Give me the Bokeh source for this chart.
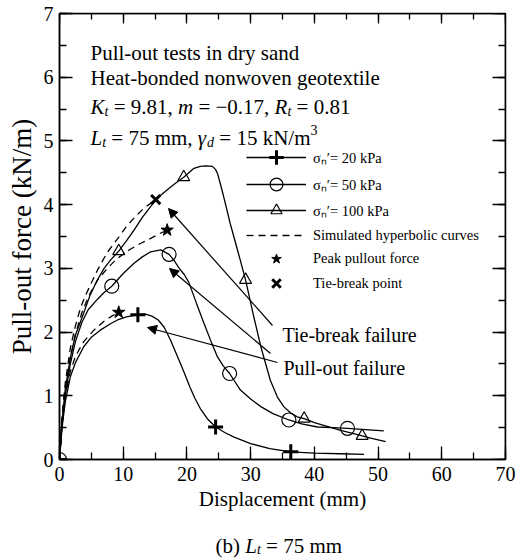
from bokeh.plotting import figure
from bokeh.layouts import column
from bokeh.models import (LinearAxis, Range1d, Label, Arrow, NormalHead, Legend,
                          LegendItem, SingleIntervalTicker)
from bokeh.embed import file_html
from bokeh.resources import INLINE

FONT = "Liberation Serif"

# ---------------- data ----------------
# sigma_n' = 20 kPa, measured curve
s20_x = [0, 0.4, 0.9, 1.7, 2.5, 3.8, 5.0, 6.4, 8.0, 9.1, 10.5, 12.3, 13.5, 14.5, 15.5, 16.4,
         17.4, 18.5, 19.5, 20.5, 21.3, 22.1, 23.2, 24.5, 26.0, 27.4, 30.0, 33.0, 36.3, 40.0, 44.0, 47.8]
s20_y = [0, 0.5, 0.9, 1.3, 1.52, 1.77, 1.92, 2.03, 2.13, 2.19, 2.24, 2.27, 2.28, 2.25, 2.19, 2.08,
         1.88, 1.62, 1.38, 1.13, 0.95, 0.8, 0.64, 0.51, 0.42, 0.35, 0.25, 0.17, 0.12, 0.1, 0.09, 0.08]
# sigma_n' = 50 kPa
s50_x = [0, 0.4, 0.9, 1.7, 2.5, 3.5, 4.5, 6.0, 7.0, 8.2, 10.0, 11.7, 13.0, 14.3, 15.9, 17.2, 18.0,
         18.8, 19.6, 20.3, 21.5, 22.7, 23.8, 24.8, 25.7, 26.7, 28.4, 30.0, 31.6, 33.5, 36.0, 38.0,
         40.5, 43.0, 45.2, 48.0, 50.9]
s50_y = [0, 0.55, 1.0, 1.5, 1.85, 2.15, 2.35, 2.52, 2.62, 2.72, 2.92, 3.08, 3.18, 3.26, 3.29, 3.22,
         3.12, 3.0, 2.9, 2.78, 2.45, 2.13, 1.85, 1.61, 1.47, 1.35, 1.09, 0.95, 0.83, 0.72, 0.62, 0.56,
         0.51, 0.5, 0.49, 0.47, 0.45]
# sigma_n' = 100 kPa
s100_x = [0, 0.4, 0.9, 1.7, 2.5, 3.8, 4.8, 5.9, 7.0, 8.0, 9.3, 10.5, 11.7, 13.0, 14.3, 15.3, 16.5,
          17.5, 18.5, 19.5, 20.3, 21.1, 22.1, 23.0, 24.0, 24.5, 24.8, 25.5, 26.2, 26.8, 28.1, 29.2,
          30.4, 31.6, 33.1, 34.2, 35.2, 36.3, 37.3, 38.4, 40.0, 42.0, 44.0, 46.0, 47.5, 49.0, 51.2]
s100_y = [0, 0.6, 1.1, 1.6, 1.95, 2.3, 2.58, 2.81, 3.0, 3.13, 3.27, 3.43, 3.6, 3.8, 3.97, 4.1, 4.2,
          4.28, 4.36, 4.43, 4.5, 4.57, 4.6, 4.61, 4.6, 4.55, 4.49, 4.23, 3.95, 3.7, 3.23, 2.82,
          2.28, 1.77, 1.24, 0.98, 0.83, 0.73, 0.67, 0.64, 0.58, 0.52, 0.46, 0.41, 0.37, 0.33, 0.28]

# simulated hyperbolic curves (dashed)
h20_x = [0, 0.4, 0.9, 1.7, 2.5, 3.8, 5.4, 7.0, 8.2, 9.3]
h20_y = [0, 0.55, 0.98, 1.38, 1.62, 1.85, 2.03, 2.17, 2.25, 2.31]
h50_x = [0, 0.4, 0.9, 1.7, 2.5, 3.5, 4.5, 6.0, 7.5, 9.0, 11.1, 12.7, 14.3, 15.6, 16.9]
h50_y = [0, 0.62, 1.1, 1.6, 1.97, 2.3, 2.55, 2.82, 3.0, 3.15, 3.3, 3.39, 3.47, 3.54, 3.6]
h100_x = [0, 0.4, 0.9, 1.7, 2.5, 3.3, 4.1, 4.9, 6.0, 7.5, 9.0, 10.6, 12.0, 13.2, 15.1]
h100_y = [0, 0.68, 1.2, 1.75, 2.1, 2.38, 2.58, 2.75, 2.98, 3.25, 3.45, 3.67, 3.82, 3.94, 4.08]

# markers
m20_x = [0, 12.3, 24.5, 36.3]
m20_y = [0, 2.27, 0.51, 0.12]
m50_x = [0, 8.2, 17.2, 26.7, 36.0, 45.2]
m50_y = [0, 2.72, 3.22, 1.35, 0.62, 0.49]
m100_x = [9.3, 19.5, 29.2, 38.4, 47.5]
m100_y = [3.27, 4.43, 2.82, 0.64, 0.37]
peak_x = [9.3, 16.9]
peak_y = [2.31, 3.6]
tie_x = [15.1]
tie_y = [4.08]

legend_labels = ["σₙ′= 20 kPa", "σₙ′= 50 kPa", "σₙ′= 100 kPa",
                 "Simulated hyperbolic curves", "Peak pullout force", "Tie-break point"]

# ---------------- main figure ----------------
BL, BR, BT, BB = 59, 11, 13, 66
p = figure(width=516, height=525, x_range=Range1d(0, 70), y_range=Range1d(0, 7),
           output_backend="svg", toolbar_location=None,
           min_border_left=BL, min_border_right=BR, min_border_top=BT, min_border_bottom=BB)
p.background_fill_color = "white"
p.border_fill_color = "white"
p.outline_line_color = "black"
p.outline_line_width = 1.5
p.xgrid.visible = False
p.ygrid.visible = False

XPX = 446 / 70.0
YPX = 446 / 7.0
X0, Y0 = 59.0, 459.0


def dx(px):
    return (px - X0) / XPX


def dy(py):
    return (Y0 - py) / YPX


def style_axis(ax, labels=True, mj=13, mn=7):
    ax.axis_line_color = "black"
    ax.axis_line_width = 1.5
    ax.major_tick_in = mj
    ax.major_tick_out = 0
    ax.minor_tick_in = mn
    ax.minor_tick_out = 0
    ax.major_tick_line_color = "black"
    ax.minor_tick_line_color = "black"
    ax.major_tick_line_width = 1.3
    ax.minor_tick_line_width = 1.3
    ax.major_label_text_font = FONT
    if labels:
        ax.major_label_text_font_size = "20px"
        ax.major_label_text_color = "black"
    else:
        ax.major_label_text_font_size = "6px"
        ax.major_label_text_color = None
        ax.major_label_standoff = 0


p.xaxis.ticker = SingleIntervalTicker(interval=10, num_minor_ticks=2)
p.yaxis.ticker = SingleIntervalTicker(interval=1, num_minor_ticks=2)
style_axis(p.xaxis[0])
style_axis(p.yaxis[0])
p.xaxis.major_label_standoff = 7
p.yaxis.major_label_standoff = 6
p.xaxis.axis_label = "Displacement (mm)"
p.yaxis.axis_label = "Pull-out force (kN/m)"
for ax in (p.xaxis[0], p.yaxis[0]):
    ax.axis_label_text_font = FONT
    ax.axis_label_text_font_style = "normal"
    ax.axis_label_text_color = "black"
p.xaxis.axis_label_text_font_size = "21px"
p.yaxis.axis_label_text_font_size = "27px"
p.xaxis.axis_label_standoff = 3
p.yaxis.axis_label_standoff = 4

# top and right tick rows, pinned to the frame edges so they take no border space
top = LinearAxis(ticker=SingleIntervalTicker(interval=10, num_minor_ticks=2), fixed_location=7)
right = LinearAxis(ticker=SingleIntervalTicker(interval=1, num_minor_ticks=2), fixed_location=70)
style_axis(top, labels=False, mj=10, mn=6)
style_axis(right, labels=False)
p.add_layout(top, "above")
p.add_layout(right, "right")

# ---------------- curves ----------------
LW = 1.3
l20 = p.line(s20_x, s20_y, line_color="black", line_width=LW)
l50 = p.line(s50_x, s50_y, line_color="black", line_width=LW)
l100 = p.line(s100_x, s100_y, line_color="black", line_width=LW)
d20 = p.line(h20_x, h20_y, line_color="black", line_width=LW, line_dash="7 5")
p.line(h50_x, h50_y, line_color="black", line_width=LW, line_dash="7 5")
p.line(h100_x, h100_y, line_color="black", line_width=LW, line_dash="7 5")

c20 = p.scatter(m20_x, m20_y, marker="cross", size=15, line_color="black", line_width=3)
c50 = p.scatter(m50_x, m50_y, marker="circle", size=14, line_color="black", fill_color=None, line_width=1.2)
c100 = p.scatter(m100_x, m100_y, marker="triangle", size=12, line_color="black", fill_color=None, line_width=1.2)
cpk = p.scatter(peak_x, peak_y, marker="star", size=13, line_color="black", fill_color="black")
ctb = p.scatter(tie_x, tie_y, marker="x", size=13, line_color="black", line_width=3)

# legend: one row per Legend so each row sits where the reference has it
rows = [
    (legend_labels[0], [l20, c20], 157, 36),
    (legend_labels[1], [l50, c50], 184, 32),
    (legend_labels[2], [l100, c100], 210, 28),
    (legend_labels[3], [d20], 235, 20),
    (legend_labels[4], [cpk], 258, 25),
    (legend_labels[5], [ctb], 283, 30),
]
for lab, rends, cy, gh in rows:
    lg = Legend(items=[LegendItem(label=lab, renderers=rends)],
                location=(187, int(round(Y0 - cy - gh / 2))), margin=0, padding=0, spacing=0,
                glyph_width=60, glyph_height=gh, label_height=gh, label_standoff=7,
                label_text_font=FONT, label_text_font_size="14.5px", label_text_color="black",
                border_line_alpha=0, background_fill_alpha=0)
    p.add_layout(lg)

# ---------------- annotations ----------------
def arrow(x0p, y0p, x1p, y1p):
    p.add_layout(Arrow(end=NormalHead(size=9, fill_color="black", line_color="black", line_width=1),
                       x_start=dx(x0p), y_start=dy(y0p), x_end=dx(x1p), y_end=dy(y1p),
                       line_color="black", line_width=1.2))


arrow(272, 325, 168, 208)
arrow(270, 353, 169, 268)
arrow(277, 362, 147, 327)

REG = {' ': .25, '(': .333, ')': .333, ',': .25, '-': .333, '.': .25, '/': .278, '=': .564,
       '−': .564, 'b': .5, 'k': .5, 'm': .778, 'N': .722}
for d in "0123456789":
    REG[d] = .5
ITA = {'K': .667, 'L': .556, 'R': .611, 'm': .722, 't': .278, 'd': .5, 'γ': .44}


def seg_width(s, tbl, size):
    return sum(tbl.get(c, .5) for c in s) * size


def rich(fig, x, y, segs):
    off = 0.0
    for txt, italic, size, yoff in segs:
        tbl = ITA if italic else REG
        lead = len(txt) - len(txt.lstrip(' '))
        t = txt.strip(' ')
        fig.add_layout(Label(x=x, y=y, x_offset=off + lead * .25 * size, y_offset=yoff,
                             text=t, text_font=FONT, text_font_size=f"{size}px",
                             text_font_style="italic" if italic else "normal",
                             text_baseline="alphabetic", text_align="left", text_color="black"))
        off += seg_width(txt, tbl, size)


rich(p, dx(90), dy(52), [("Pull-out tests in dry sand", False, 21, 0)])
rich(p, dx(90), dy(77), [("Heat-bonded nonwoven geotextile", False, 21, 0)])
rich(p, dx(90), dy(106), [("K", True, 21, 0), ("t", True, 14, -5), (" = 9.81, ", False, 21, 0),
                          ("m", True, 21, 0), (" = −0.17, ", False, 21, 0), ("R", True, 21, 0),
                          ("t", True, 14, -5), (" = 0.81", False, 21, 0)])
rich(p, dx(90), dy(137), [("L", True, 21, 0), ("t", True, 14, -5), (" = 75 mm, ", False, 21, 0),
                          ("γ", True, 21, 0), ("d", True, 14, -5), (" = 15 kN/m", False, 21, 0),
                          ("3", False, 14, 8)])
rich(p, dx(282), dy(334), [("Tie-break failure", False, 20, 0)])
rich(p, dx(283), dy(367), [("Pull-out failure", False, 20, 0)])

# ---------------- caption strip (coordinates = page pixels) ----------------
CAP_H = 33
cap = figure(width=516, height=CAP_H, x_range=Range1d(BL, 516 - BR), y_range=Range1d(0, CAP_H),
             output_backend="svg", toolbar_location=None, x_axis_type=None, y_axis_type=None,
             min_border_left=BL, min_border_right=BR, min_border_top=0, min_border_bottom=0)
cap.outline_line_color = None
cap.background_fill_color = "white"
cap.border_fill_color = "white"
rich(cap, 215, CAP_H - (545 - 525), [("(b) ", False, 21, 0), ("L", True, 21, 0), ("t", True, 14, -4),
                                     (" = 75 mm", False, 21, 0)])

layout = column(p, cap, spacing=0)
open("out.html", "w").write(file_html(layout, INLINE))
